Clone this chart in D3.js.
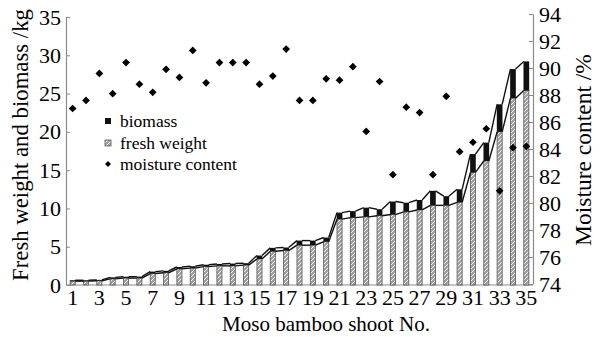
<!DOCTYPE html>
<html>
<head>
<meta charset="utf-8">
<script src="https://cdn.jsdelivr.net/npm/d3@7"></script>
<style>
  body { margin: 0; background: #fff; }
  text { font-family: "Liberation Serif", "Times New Roman", Tinos, "DejaVu Serif", serif; fill: #000; }
</style>
</head>
<body>
<div id="chart"></div>
<script>
var fontStack = '"Liberation Serif", "Times New Roman", Tinos, "DejaVu Serif", serif'
// shoot numbers 1..35
var shoots = d3.range(1, 36)
// fresh weight (kg), bottom part of each column
var fresh_weight = [0.5, 0.5, 0.55, 0.8, 0.9, 0.9, 1.5, 1.6, 2.1, 2.2, 2.4, 2.5, 2.5, 2.6,
  3.4, 4.4, 4.5, 5.2, 5.2, 5.65, 8.6, 8.8, 8.9, 9.05, 9.2, 9.55, 9.8, 10.4, 10.4, 10.8,
  14.7, 16.2, 20.0, 24.4, 25.4]
// biomass (kg), black part stacked on top
var biomass = [0.12, 0.12, 0.12, 0.2, 0.18, 0.2, 0.25, 0.25, 0.25, 0.25, 0.25, 0.25, 0.3, 0.25,
  0.45, 0.45, 0.4, 0.6, 0.6, 0.55, 0.85, 0.85, 1.2, 0.85, 1.7, 1.2, 1.3, 1.9, 1.2, 1.7,
  2.4, 2.4, 3.6, 3.8, 3.8]
// moisture content (%), right axis
var moisture = [87.0, 87.6, 89.6, 88.1, 90.4, 88.8, 88.2, 89.9, 89.3, 91.3, 88.9, 90.4, 90.4, 90.4,
  88.8, 89.4, 91.4, 87.6, 87.6, 89.2, 89.1, 90.1, 85.3, 89.0, 82.1, 87.1, 86.7, 82.1, 87.9, 83.8,
  84.5, 85.5, 80.9, 84.1, 84.2]
var left_ticks = d3.range(0, 36, 5)
var right_ticks = d3.range(74, 95, 2)
var x_ticks = d3.range(1, 36, 2)

var w = 604, h = 337
// plot edges (note: "top" is taken by window.top, so use other names)
var pl = 66, pr = 533, pt = 16, pb = 285
var tickFont = 22

var svg = d3.select("#chart").append("svg")
  .attr("width", w).attr("height", h)
  .attr("font-family", fontStack)

// little speckled fill for the fresh weight bars
var defs = svg.append("defs")
var pat = defs.append("pattern")
  .attr("id", "hatch").attr("patternUnits", "userSpaceOnUse")
  .attr("width", 4).attr("height", 4)
pat.append("rect").attr("width", 4).attr("height", 4).attr("fill", "#a0a0a0")
pat.append("path").attr("d", "M0,4 L4,0").attr("stroke", "#f4f4f4").attr("stroke-width", 1)

var x = d3.scaleBand().domain(shoots).range([pl, pr]).paddingInner(0.62).paddingOuter(0.31)
var y = d3.scaleLinear().domain([0, 35]).range([pb, pt + 1])
var y2 = d3.scaleLinear().domain([74, 94]).range([pb - 1, pt - 2])
var bw = x.bandwidth()

var totals = fresh_weight.map(function(d, i){ return d + biomass[i] })

// axes
var axisL = d3.axisLeft(y).tickValues(left_ticks).tickSize(0).tickPadding(5)
var gL = svg.append("g").attr("transform", "translate(" + pl + ",0)").call(axisL)
var axisR = d3.axisRight(y2).tickValues(right_ticks).tickSize(0).tickPadding(6)
var gR = svg.append("g").attr("transform", "translate(" + pr + ",0)").call(axisR)
;[gL, gR].forEach(function(g){
  g.attr("font-family", fontStack).attr("font-size", tickFont)
  g.select(".domain").attr("stroke", "#8c8c8c").attr("stroke-width", 1.2)
  g.selectAll("text").attr("fill", "#000")
})
// inward tick marks
gL.selectAll(".tick").append("line").attr("x1", 0).attr("x2", 4).attr("stroke", "#8c8c8c")
gR.selectAll(".tick").append("line").attr("x1", 0).attr("x2", -4).attr("stroke", "#8c8c8c")

svg.append("line").attr("x1", pl).attr("x2", pr).attr("y1", pb).attr("y2", pb)
  .attr("stroke", "#8c8c8c").attr("stroke-width", 1.2)

svg.append("g").selectAll("text").data(x_ticks).enter().append("text")
  .attr("x", function(d){ return x(d) + bw / 2 })
  .attr("y", 305)
  .attr("text-anchor", "middle")
  .attr("font-size", tickFont)
  .text(function(d){ return d })

// fresh weight bars
svg.append("g").selectAll("rect").data(shoots).enter().append("rect")
  .attr("x", function(d){ return x(d) })
  .attr("y", function(d, i){ return y(fresh_weight[i]) })
  .attr("width", bw)
  .attr("height", function(d, i){ return y(0) - y(fresh_weight[i]) })
  .attr("fill", "url(#hatch)")
  .attr("stroke", "#555").attr("stroke-width", 0.8)

// biomass on top
svg.append("g").selectAll("rect").data(shoots).enter().append("rect")
  .attr("x", function(d){ return x(d) - 0.3 })
  .attr("y", function(d, i){ return y(totals[i]) })
  .attr("width", bw + 0.6)
  .attr("height", function(d, i){ return y(fresh_weight[i]) - y(totals[i]) })
  .attr("fill", "#111")

// series lines between the column tops
var seriesLine = function(vals) {
  var segs = []
  for (let i = 0; i < vals.length - 1; i++) {
    segs.push([[x(shoots[i]) + bw, y(vals[i])], [x(shoots[i + 1]), y(vals[i + 1])]])
  }
  return segs
}
;[fresh_weight, totals].forEach(function(vals){
  svg.append("g").selectAll("line").data(seriesLine(vals)).enter().append("line")
    .attr("x1", function(d){ return d[0][0] }).attr("y1", function(d){ return d[0][1] })
    .attr("x2", function(d){ return d[1][0] }).attr("y2", function(d){ return d[1][1] })
    .attr("stroke", "#111").attr("stroke-width", 1.4)
})

// moisture points
var diamond = d3.symbol().type(d3.symbolSquare).size(30)
svg.append("g").selectAll("path").data(shoots).enter().append("path")
  .attr("d", diamond)
  .attr("transform", function(d, i){
    return "translate(" + (x(d) + bw / 2) + "," + y2(moisture[i]) + ") rotate(45)"
  })
  .attr("fill", "#000")

// titles and legend text, sized to fit the span they take in the picture
var fit = function(sel, target) {
  var len = sel.node().getComputedTextLength()
  var fs = parseFloat(sel.attr("font-size"))
  sel.attr("font-size", fs * target / len)
}

// legend
var lg = svg.append("g")
lg.append("rect").attr("x", 105).attr("y", 118).attr("width", 6).attr("height", 6).attr("fill", "#111")
lg.append("rect").attr("x", 105).attr("y", 140).attr("width", 6).attr("height", 6)
  .attr("fill", "url(#hatch)").attr("stroke", "#555").attr("stroke-width", 0.8)
lg.append("path").attr("d", d3.symbol().type(d3.symbolSquare).size(18))
  .attr("transform", "translate(108,164) rotate(45)").attr("fill", "#000")
var legTexts = ["biomass", "fresh weight", "moisture content"]
var lt = lg.selectAll("text").data(legTexts).enter().append("text")
  .attr("x", 120)
  .attr("y", function(d, i){ return 127 + i * 21.5 })
  .attr("font-size", 16)
  .text(function(d){ return d })
var lastLeg = d3.select(lt.nodes()[2])
fit(lastLeg, 117)
lt.attr("font-size", lastLeg.attr("font-size"))

var tl = svg.append("text")
  .attr("transform", "translate(28,145) rotate(-90)")
  .attr("text-anchor", "middle").attr("font-size", 20)
  .text("Fresh weight and biomass /kg")
fit(tl, 272)
var tr = svg.append("text")
  .attr("transform", "translate(591,150) rotate(-90)")
  .attr("text-anchor", "middle").attr("font-size", 20)
  .text("Moisture content /%")
fit(tr, 192)
var tx = svg.append("text")
  .attr("x", 326).attr("y", 331)
  .attr("text-anchor", "middle").attr("font-size", 20)
  .text("Moso bamboo shoot No.")
fit(tx, 208)
</script>
</body>
</html>
